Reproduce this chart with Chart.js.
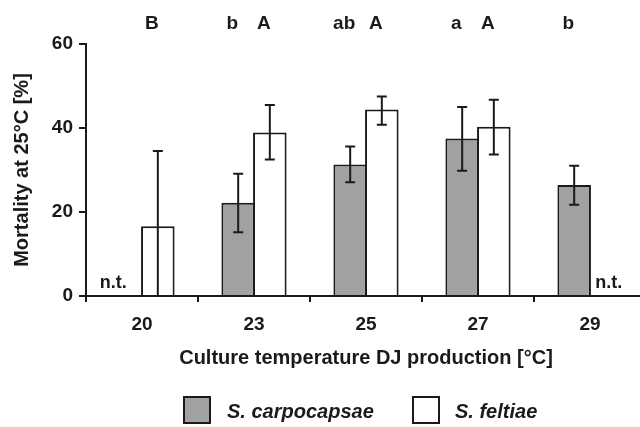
<!DOCTYPE html>
<html>
<head>
<meta charset="utf-8">
<script src="https://cdn.jsdelivr.net/npm/chart.js@4"></script>
<style>
  html, body { margin: 0; padding: 0; background: #fff; overflow: hidden; }
  #wrap { width: 646px; height: 427px; }
</style>
</head>
<body>
<div id="wrap"><canvas id="mortality_chart"></canvas></div>
<script>
// culture temperature (x) and mortality at 25°C (y, %)
const temps = ['20', '23', '25', '27', '29'];

const carpMean = [null, 22.2, 31.3, 37.5, 26.4];
const carpLow  = [null, 15.2, 27.1, 29.8, 21.7];
const carpHigh = [null, 29.1, 35.6, 45.0, 31.0];
const carpSig  = ['', 'b', 'ab', 'a', 'b'];

const feltMean = [16.6, 38.9, 44.4, 40.3, null];
const feltLow  = [0, 32.5, 40.8, 33.7, null];
const feltHigh = [34.5, 45.5, 47.5, 46.7, null];
const feltSig  = ['B', 'A', 'A', 'A', ''];

const yTicks = [0, 20, 40, 60];

const FONT = "'Liberation Sans', Arial, Helvetica, sans-serif";
const INK = '#1a1a1a';

const errorBars = {
    id: 'errorBars',
    afterDatasetsDraw(chart) {
        const ctx = chart.ctx;
        const y = chart.scales.y;
        const lows = [carpLow, feltLow];
        const highs = [carpHigh, feltHigh];
        const sigs = [carpSig, feltSig];
        ctx.save();
        ctx.strokeStyle = INK;
        ctx.fillStyle = INK;
        ctx.lineWidth = 2;
        chart.data.datasets.forEach((ds, d) => {
            const meta = chart.getDatasetMeta(d);
            meta.data.forEach((bar, i) => {
                const x = bar.x;
                if (ds.data[i] === null) {
                    // not tested
                    ctx.font = 'bold 18px ' + FONT;
                    ctx.textAlign = 'center';
                    ctx.textBaseline = 'middle';
                    ctx.fillText('n.t.', x + (d === 0 ? -13 : 3), y.getPixelForValue(3));
                    return;
                }
                const top = y.getPixelForValue(highs[d][i]);
                const bot = y.getPixelForValue(lows[d][i]);
                ctx.beginPath();
                ctx.moveTo(x, top); ctx.lineTo(x, bot);
                ctx.moveTo(x - 5, top); ctx.lineTo(x + 5, top);
                ctx.moveTo(x - 5, bot); ctx.lineTo(x + 5, bot);
                ctx.stroke();
                if (sigs[d][i]) {
                    ctx.font = 'bold 19px ' + FONT;
                    ctx.textAlign = 'center';
                    ctx.textBaseline = 'middle';
                    ctx.fillText(sigs[d][i], x - 6, 24);
                }
            });
        });
        ctx.restore();
    }
};

const boxLegend = {
    id: 'boxLegend',
    afterDraw(chart) {
        const ctx = chart.ctx;
        const spots = [[184, 227], [413, 455]];
        ctx.save();
        chart.data.datasets.forEach((ds, d) => {
            const [bx, tx] = spots[d];
            ctx.fillStyle = ds.backgroundColor;
            ctx.strokeStyle = INK;
            ctx.lineWidth = 2;
            ctx.fillRect(bx, 397, 26, 26);
            ctx.strokeRect(bx, 397, 26, 26);
            ctx.fillStyle = INK;
            ctx.font = 'italic bold 20px ' + FONT;
            ctx.textAlign = 'left';
            ctx.textBaseline = 'middle';
            ctx.fillText(ds.label, tx, 412);
        });
        ctx.restore();
    }
};

(function mortality_chart()
{
    const el = document.getElementById('mortality_chart');
    const myChart = new Chart(el, {
        type: 'bar',
        data: {
            labels: temps,
            datasets: [{
                label: 'S. carpocapsae',
                data: carpMean,
                backgroundColor: '#a0a2a0',
                borderColor: INK,
                borderWidth: 2,
                categoryPercentage: 0.565,
                barPercentage: 1.06
            }, {
                label: 'S. feltiae',
                data: feltMean,
                backgroundColor: '#ffffff',
                borderColor: INK,
                borderWidth: 2,
                categoryPercentage: 0.565,
                barPercentage: 1.06
            }]
        },
        options: {
            responsive: true,
            maintainAspectRatio: false,
            animation: false,
            layout: { padding: { top: 44, left: 0, right: 0, bottom: 0 } },
            plugins: {
                legend: { display: false },
                tooltip: { enabled: false }
            },
            scales: {
                x: {
                    afterFit: s => { s.height = 131; },
                    grid: { drawOnChartArea: false, tickLength: 6, color: INK, lineWidth: 2 },
                    border: { color: INK, width: 2 },
                    ticks: { color: INK, padding: 11, font: { family: FONT, size: 19, weight: 'bold' } },
                    title: {
                        display: true,
                        text: 'Culture temperature DJ production [°C]',
                        color: INK,
                        padding: { top: 0, bottom: 57 },
                        font: { family: FONT, size: 20, weight: 'bold' }
                    }
                },
                y: {
                    min: 0,
                    max: 60,
                    afterFit: s => { s.width = 86; },
                    afterBuildTicks: s => { s.ticks = yTicks.map(v => ({ value: v })); },
                    grid: { drawOnChartArea: false, tickLength: 7, color: INK, lineWidth: 2 },
                    border: { color: INK, width: 2 },
                    ticks: { color: INK, padding: 6, font: { family: FONT, size: 19, weight: 'bold' } },
                    title: {
                        display: true,
                        text: 'Mortality at 25°C [%]',
                        color: INK,
                        padding: { top: 10, bottom: 0 },
                        font: { family: FONT, size: 20, weight: 'bold' }
                    }
                }
            }
        },
        plugins: [errorBars, boxLegend]
    });
})();
</script>
</body>
</html>
